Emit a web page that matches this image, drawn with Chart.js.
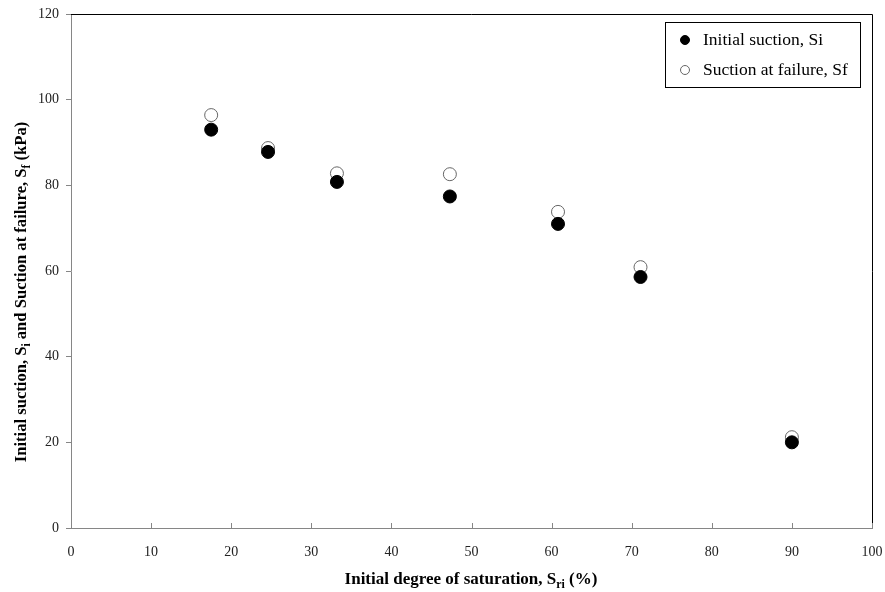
<!DOCTYPE html>
<html>
<head>
<meta charset="utf-8">
<script src="https://cdn.jsdelivr.net/npm/chart.js@4/dist/chart.umd.min.js"></script>
<style>
  html, body { margin: 0; padding: 0; background: #fff; }
</style>
</head>
<body>
<canvas id="suctionChart" width="885" height="592"></canvas>
<script>
// values
const saturation = [17.5, 24.6, 33.2, 47.3, 60.8, 71.1, 90.0];
const initialSuction = [93.0, 87.8, 80.8, 77.4, 71.0, 58.6, 20.0];
const failureSuction = [96.4, 88.7, 82.8, 82.6, 73.8, 60.9, 21.2];
const xTicks = [0, 10, 20, 30, 40, 50, 60, 70, 80, 90, 100];
const yTicks = [0, 20, 40, 60, 80, 100, 120];
const seriesNames = ['Initial suction, Si', 'Suction at failure, Sf'];

const serif = '"Liberation Serif", "Times New Roman", serif';
const axisGrey = '#868686';

const toPoints = (xs, ys) => xs.map((x, i) => ({ x: x, y: ys[i] }));

// draw a string made of normal + subscript pieces, centred on cx
const drawRich = (ctx, parts, cx, baseY, size) => {
    let total = 0;
    parts.forEach(p => {
        ctx.font = 'bold ' + (p.sub ? size * 0.7 : size) + 'px ' + serif;
        p.w = ctx.measureText(p.t).width;
        total += p.w;
    });
    let x = cx - total / 2;
    parts.forEach(p => {
        ctx.font = 'bold ' + (p.sub ? size * 0.7 : size) + 'px ' + serif;
        ctx.fillText(p.t, x, baseY + (p.sub ? size * 0.22 : 0));
        x += p.w;
    });
};

const decorations = {
    id: 'decorations',
    afterDraw(chart) {
        const ctx = chart.ctx;
        const area = chart.chartArea;
        const xs = chart.scales.x;
        ctx.save();

        // top and right frame
        ctx.strokeStyle = '#000';
        ctx.lineWidth = 1;
        ctx.beginPath();
        ctx.moveTo(area.left, area.top + 0.5);
        ctx.lineTo(area.right + 0.5, area.top + 0.5);
        ctx.lineTo(area.right + 0.5, area.bottom);
        ctx.stroke();

        // x tick marks point inwards
        ctx.strokeStyle = axisGrey;
        ctx.beginPath();
        xTicks.forEach(v => {
            const px = Math.round(xs.getPixelForValue(v)) + 0.5;
            ctx.moveTo(px, area.bottom);
            ctx.lineTo(px, area.bottom - 5);
        });
        ctx.stroke();

        // axis titles
        ctx.fillStyle = '#000';
        ctx.textAlign = 'left';
        ctx.textBaseline = 'alphabetic';
        drawRich(ctx, [
            { t: 'Initial degree of saturation, S' },
            { t: 'ri', sub: true },
            { t: ' (%)' }
        ], 471, 584, 17);

        ctx.save();
        ctx.translate(26, 292);
        ctx.rotate(-Math.PI / 2);
        drawRich(ctx, [
            { t: 'Initial suction, S' },
            { t: 'i', sub: true },
            { t: ' and Suction at failure, S' },
            { t: 'f', sub: true },
            { t: ' (kPa)' }
        ], 0, 0, 16.6);
        ctx.restore();

        // legend box
        ctx.strokeStyle = '#000';
        ctx.strokeRect(665.5, 22.5, 195, 65);
        ctx.font = '17.5px ' + serif;
        ctx.textBaseline = 'middle';
        chart.data.datasets.forEach((ds, i) => {
            const cy = 40 + i * 30;
            ctx.beginPath();
            ctx.arc(685, cy, 4.5, 0, Math.PI * 2);
            ctx.fillStyle = ds.pointBackgroundColor;
            ctx.fill();
            ctx.strokeStyle = ds.pointBorderColor;
            ctx.lineWidth = 1;
            ctx.stroke();
            ctx.fillStyle = '#000';
            ctx.fillText(ds.label, 703, cy);
        });
        ctx.restore();
    }
};

const ctx = document.getElementById('suctionChart').getContext('2d');
new Chart(ctx, {
    type: 'scatter',
    data: {
        datasets: [{
            label: seriesNames[0],
            data: toPoints(saturation, initialSuction),
            pointRadius: 6.5,
            pointBackgroundColor: '#000',
            pointBorderColor: '#000',
            pointBorderWidth: 1
        }, {
            label: seriesNames[1],
            data: toPoints(saturation, failureSuction),
            pointRadius: 6.5,
            pointBackgroundColor: '#fff',
            pointBorderColor: '#666',
            pointBorderWidth: 1
        }]
    },
    options: {
        responsive: false,
        animation: false,
        devicePixelRatio: 1,
        layout: { padding: { left: 0, top: 14, right: 13, bottom: 0 } },
        plugins: {
            legend: { display: false },
            tooltip: { enabled: false }
        },
        scales: {
            x: {
                type: 'linear',
                min: 0,
                max: 100,
                afterFit: s => {
                    s.height = 64;
                    s.paddingLeft = 0;
                    s.paddingRight = 0;
                },
                afterBuildTicks: s => { s.ticks = xTicks.map(v => ({ value: v })); },
                ticks: {
                    padding: 8,
                    color: '#222',
                    font: { family: serif, size: 14 }
                },
                grid: { display: false },
                border: { display: true, color: axisGrey }
            },
            y: {
                type: 'linear',
                min: 0,
                max: 120,
                afterFit: s => {
                    s.width = 71;
                    s.paddingTop = 0;
                    s.paddingBottom = 0;
                },
                afterBuildTicks: s => { s.ticks = yTicks.map(v => ({ value: v })); },
                ticks: {
                    padding: 7,
                    color: '#222',
                    font: { family: serif, size: 14 }
                },
                grid: { drawOnChartArea: false, tickLength: 5, color: axisGrey },
                border: { display: true, color: axisGrey }
            }
        }
    },
    plugins: [decorations]
});
</script>
</body>
</html>
